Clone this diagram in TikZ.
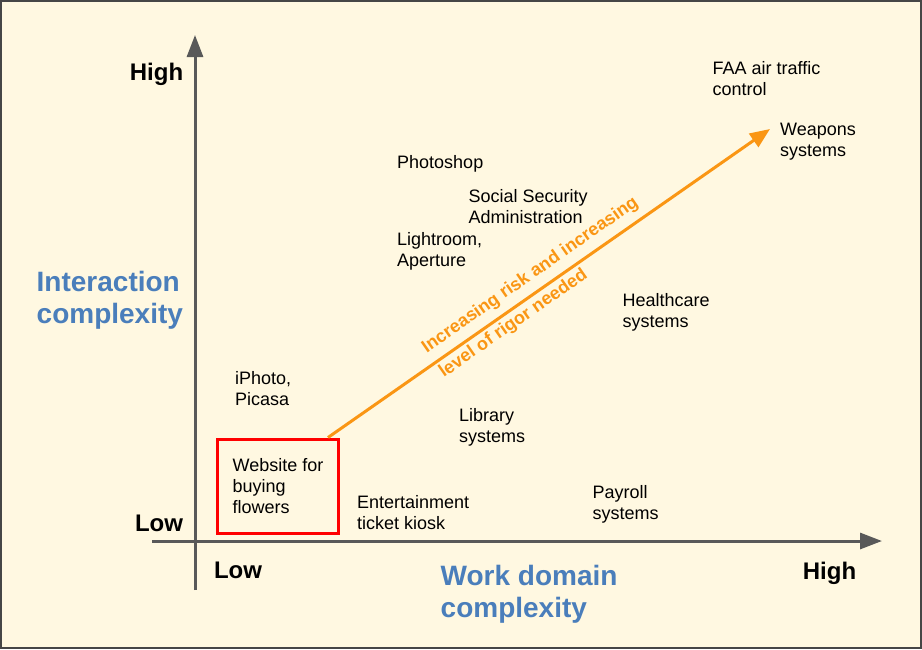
\documentclass[tikz,border=0pt]{standalone}
\usepackage{fontspec}
\setmainfont{Liberation Sans}
\usetikzlibrary{arrows.meta}
\definecolor{paper}{RGB}{255,248,225}
\definecolor{framegray}{RGB}{70,70,70}
\definecolor{axisgray}{RGB}{89,89,89}
\definecolor{dimblue}{RGB}{74,126,187}
\definecolor{riskorange}{RGB}{250,150,20}
\tikzset{
  axisline/.style={draw=axisgray, line width=3pt, -{Triangle[length=22pt,width=16pt]}},
  rank/.style={font=\fontsize{24}{28}\selectfont\bfseries, inner sep=0pt, anchor=base},
  dimlabel/.style={font=\fontsize{28}{32}\selectfont\bfseries, text=dimblue, inner sep=0pt, align=left},
  product/.style={font=\fontsize{18}{21}\selectfont, inner sep=0pt, align=left, anchor=base west},
  risk/.style={draw=riskorange, line width=3pt, -{Triangle[length=20pt,width=16pt]}},
}
\begin{document}
\begin{tikzpicture}[x=1pt,y=-1pt]
  \useasboundingbox (0,0) rectangle (922,649);
  \path[fill=paper, draw=framegray, line width=2pt] (1,1) rectangle (921,648);
  % axes
  \coordinate (y-from) at (195,590);
  \coordinate (y-to) at (195,35);
  \coordinate (x-from) at (152,541);
  \coordinate (x-to) at (882,541);
  \draw[axisline] (y-from) -- (y-to);
  \draw[axisline] (x-from) -- (x-to);
  \node[rank] (y-high) at (156.5,80) {High};
  \node[rank] (y-low) at (159,531) {Low};
  \node[rank] (x-low) at (238,578) {Low};
  \node[rank] (x-high) at (829.5,579) {High};
  % base anchor sits on the last line
  \node[dimlabel, anchor=base west] (y-title) at (36.5,323.5) {Interaction\\complexity};
  \node[dimlabel, anchor=base west] (x-title) at (440.5,617) {Work domain\\complexity};
  % systems
  \node[product] (faa) at (712.5,95) {FAA air traffic\\control};
  \node[product] (weapons) at (780,156) {Weapons\\systems};
  \node[product] (photoshop) at (397,168) {Photoshop};
  \node[product] (ssa) at (468.5,223.5) {Social Security\\Administration};
  \node[product] (lightroom) at (397,266.5) {Lightroom,\\Aperture};
  \node[product] (healthcare) at (622.5,327) {Healthcare\\systems};
  \node[product] (iphoto) at (235,405) {iPhoto,\\Picasa};
  \node[product] (library) at (459,442.5) {Library\\systems};
  \node[product] (kiosk) at (357,529.5) {Entertainment\\ticket kiosk};
  \node[product] (payroll) at (592.5,519.5) {Payroll\\systems};
  \node[product, anchor=center, draw=red, line width=3pt, minimum width=121pt,
        minimum height=94pt] (site) at (278,486) {Website for\\buying\\flowers};
  % risk arrow
  \coordinate (risk-tip) at (770,129);
  \draw[risk] ([xshift=-12pt]site.north east) -- node[pos=0.48, sloped, align=left,
    text=riskorange, font=\fontsize{18}{30}\selectfont\bfseries,
    text height=38pt, text depth=3pt]
    {Increasing risk and increasing\\level of rigor needed} (risk-tip);
\end{tikzpicture}
\end{document}
